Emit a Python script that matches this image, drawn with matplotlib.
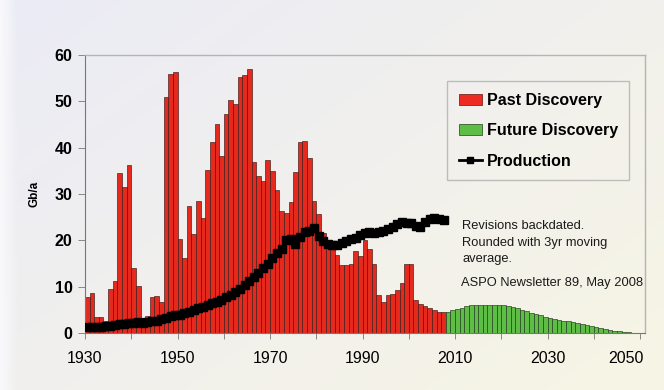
import numpy as np
import matplotlib
matplotlib.use("Agg")
import matplotlib.pyplot as plt
import matplotlib.transforms as mtransforms
from matplotlib.patches import Patch
from matplotlib.lines import Line2D

plt.rcParams['font.family'] = ['Liberation Sans', 'DejaVu Sans']

# ---- data -------------------------------------------------------------
past_years = list(range(1930, 2008))
past_discovery = [
    7.7, 8.6, 3.4, 3.4, 2.6, 9.6, 11.2, 34.6, 31.5, 36.3,      # 1930s
    14.0, 10.2, 3.2, 3.7, 7.8, 8.1, 6.7, 51.0, 55.8, 56.4,     # 1940s
    20.4, 16.3, 27.4, 21.4, 28.6, 24.9, 35.2, 41.3, 45.1, 38.1,  # 1950s
    47.2, 50.3, 49.4, 55.3, 55.6, 56.9, 36.9, 33.9, 32.9, 37.3,  # 1960s
    35.0, 30.9, 26.3, 25.8, 28.3, 34.8, 41.2, 41.4, 37.7, 28.5,  # 1970s
    25.6, 21.5, 20.0, 19.0, 16.8, 14.7, 14.6, 14.9, 17.6, 16.6,  # 1980s
    20.1, 18.1, 15.0, 8.2, 6.8, 8.3, 8.4, 9.3, 10.9, 14.9,       # 1990s
    15.0, 7.1, 6.3, 5.8, 5.5, 5.0, 4.6, 4.6,                     # 2000s
]

future_years = list(range(2008, 2051))
future_discovery = [
    4.6, 4.9, 5.2, 5.5, 5.8, 6.1, 6.1, 6.1, 6.1, 6.1, 6.1, 6.1, 6.1,
    5.9, 5.6, 5.3, 5.0, 4.7, 4.4, 4.1, 3.8, 3.5, 3.3, 3.1, 2.9, 2.7,
    2.5, 2.3, 2.1, 1.9, 1.7, 1.5, 1.3, 1.1, 0.9, 0.7, 0.5, 0.35, 0.25,
    0.15, 0.1, 0.05, 0.02,
]

prod_years = list(range(1930, 2008))
production = [
    1.4, 1.4, 1.3, 1.4, 1.5, 1.6, 1.8, 1.9, 2.0, 2.1,
    2.2, 2.3, 2.2, 2.4, 2.6, 2.6, 3.0, 3.3, 3.6, 3.8,
    4.0, 4.4, 4.6, 5.0, 5.3, 5.6, 6.0, 6.4, 6.7, 7.2,
    7.7, 8.2, 8.8, 9.6, 10.3, 11.2, 12.2, 13.0, 14.0, 15.0,
    16.3, 17.3, 18.2, 20.0, 20.2, 19.3, 20.8, 21.8, 22.0, 22.6,
    21.0, 19.8, 19.2, 19.0, 19.1, 19.5, 19.9, 20.3, 20.6, 21.2,
    21.6, 21.7, 21.6, 21.8, 22.0, 22.4, 22.9, 23.6, 24.0, 23.8,
    23.7, 23.2, 22.8, 24.0, 24.7, 24.8, 24.6, 24.4,
]

x_ticks = list(range(1930, 2051, 10))
x_labels = list(range(1930, 2051, 20))
y_ticks = list(range(0, 61, 10))

RED = '#e5291d'
GREEN = '#5dbd44'

# ---- figure -----------------------------------------------------------
fig = plt.figure(figsize=(6.64, 3.90), dpi=100)

# soft lavender-to-cream backdrop
bg = fig.add_axes([0, 0, 1, 1], zorder=-10)
h, w = 200, 340
yy, xx = np.mgrid[0:h, 0:w]
t = np.clip(0.55 * xx / w + 0.45 * yy / h, 0, 1)[..., None]
c0 = np.array([235, 235, 246]) / 255.0
c1 = np.array([247, 245, 228]) / 255.0
img = c0 * (1 - t) + c1 * t
edge = np.clip((xx / w) / 0.025, 0, 1)[..., None]
img = img * edge + np.array([0.975, 0.975, 0.985]) * (1 - edge)
bg.imshow(img, aspect='auto', extent=[0, 1, 0, 1], origin='upper')
bg.set_axis_off()

ax = fig.add_axes([0.128, 0.146, 0.843, 0.713])
ax.set_facecolor('none')

ax.bar(past_years, past_discovery, width=1.0, align='edge', color=RED,
       edgecolor='#3a1a18', linewidth=0.45, zorder=2)
ax.bar(future_years, future_discovery, width=1.0, align='edge', color=GREEN,
       edgecolor='#1f3a1a', linewidth=0.45, zorder=2)
ax.plot(np.array(prod_years) + 0.5, production, color='black', lw=2.2,
        marker='s', markersize=6.0, zorder=3)

ax.set_xlim(1930, 2051)
ax.set_ylim(0, 60)
ax.set_xticks(x_ticks)
ax.set_xticklabels([str(v) if v in x_labels else '' for v in x_ticks],
                   fontsize=11.5)
ax.set_yticks(y_ticks)
ax.set_yticklabels([str(v) for v in y_ticks], fontsize=11.5, fontweight='bold')
ax.tick_params(axis='x', direction='out', length=4, width=0.7,
               color='#888888', pad=9)
ax.tick_params(axis='y', direction='out', length=5, width=0.7,
               color='#888888', pad=4)

# the last year label sits flush against the right edge of the axis
last = ax.get_xticklabels()[-1]
last.set_ha('right')
last.set_transform(last.get_transform() +
                   mtransforms.ScaledTranslation(4 / 100, 0, fig.dpi_scale_trans))

for side in ['top', 'right']:
    ax.spines[side].set_color('#b4b4b4')
    ax.spines[side].set_linewidth(1.0)
ax.spines['left'].set_color('#777777')
ax.spines['bottom'].set_color('#777777')
ax.spines['left'].set_linewidth(0.8)
ax.spines['bottom'].set_linewidth(0.8)

ax.set_ylabel('Gb/a', fontsize=8.5, fontweight='bold', labelpad=10)

handles = [
    Patch(facecolor='#ee2b22', edgecolor='#7a2a20', linewidth=0.6),
    Patch(facecolor=GREEN, edgecolor='#3a5a30', linewidth=0.6),
    Line2D([0], [0], color='black', lw=2, marker='s', markersize=5),
]
leg = ax.legend(handles, ['Past Discovery', 'Future Discovery', 'Production'],
                loc='upper left', bbox_to_anchor=(0.647, 0.905),
                prop={'weight': 'bold', 'size': 11.5}, frameon=True,
                fancybox=False, edgecolor='#b0b0b0', facecolor='none',
                handlelength=1.45, handleheight=0.7, handletextpad=0.3,
                labelspacing=0.97, borderpad=0.72, borderaxespad=0)
leg.get_frame().set_linewidth(1.0)

ax.text(2011.6, 23.1, 'Revisions backdated.', fontsize=9.3,
        va='center', ha='left', color='#1a1a1a')
ax.text(2011.6, 19.5, 'Rounded with 3yr moving', fontsize=9.3,
        va='center', ha='left', color='#1a1a1a')
ax.text(2011.6, 16.0, 'average.', fontsize=9.3,
        va='center', ha='left', color='#1a1a1a')
ax.text(2011.3, 10.8, 'ASPO Newsletter 89, May 2008', fontsize=9.3,
        va='center', ha='left', color='#1a1a1a')

fig.savefig('out.png', dpi=100)
